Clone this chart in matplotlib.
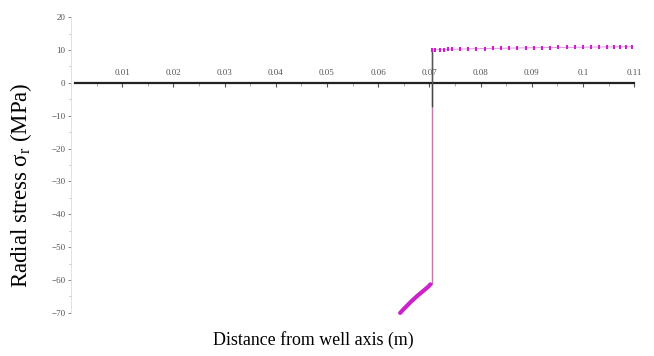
import matplotlib
matplotlib.use("Agg")
import matplotlib.pyplot as plt
from matplotlib.ticker import MultipleLocator

plt.rcParams["font.family"] = ["Liberation Serif", "DejaVu Serif"]

# Data
r_inner = [0.0643, 0.0650, 0.0657, 0.0664, 0.0671, 0.0678, 0.0685, 0.0692, 0.0698, 0.0702]
sigma_inner = [-70.0, -68.8, -67.7, -66.6, -65.6, -64.6, -63.7, -62.8, -62.0, -61.3]

r_jump = [0.0705, 0.0705]
sigma_jump = [-61.3, 10.0]

r_outer = [0.0705, 0.0712, 0.0720, 0.0728, 0.0736, 0.0745, 0.0760, 0.0776,
           0.0792, 0.0808, 0.0824, 0.0840, 0.0856, 0.0872, 0.0888, 0.0904,
           0.0920, 0.0936, 0.0952, 0.0968, 0.0984, 0.1000, 0.1016, 0.1032,
           0.1048, 0.1060, 0.1072, 0.1084, 0.1096]
sigma_outer = [10.00, 10.05, 10.09, 10.13, 10.17, 10.21, 10.27, 10.33,
               10.38, 10.43, 10.48, 10.52, 10.56, 10.60, 10.64, 10.67,
               10.70, 10.73, 10.76, 10.79, 10.82, 10.84, 10.87, 10.89,
               10.91, 10.93, 10.95, 10.97, 10.99]

x_ticks = [0.01, 0.02, 0.03, 0.04, 0.05, 0.06, 0.07, 0.08, 0.09, 0.1, 0.11]
x_tick_labels = ["0.01", "0.02", "0.03", "0.04", "0.05", "0.06", "0.07", "0.08", "0.09", "0.1", "0.11"]
y_ticks = [20, 10, 0, -10, -20, -30, -40, -50, -60, -70]

fig = plt.figure(figsize=(6.54, 3.56), dpi=100)
ax = fig.add_axes([0.1086, 0.121, 0.861, 0.831])

magenta = "#cc22cc"
ax.plot(r_jump, sigma_jump, color="#c07aa8", lw=1.0, zorder=2)
ax.plot([0.0705, 0.0705], [0, -7], color="#444444", lw=1.0, zorder=3)
ax.plot([0.0705, 0.0705], [10, 0], color="#555555", lw=1.0, zorder=3)
ax.plot(r_inner, sigma_inner, color=magenta, lw=3.0, solid_capstyle="round", zorder=4, clip_on=False)
ax.plot(r_outer, sigma_outer, color=magenta, lw=0, marker="|", ms=3.5, mew=1.5, zorder=4)
ax.plot(r_outer, sigma_outer, color="#e08ae0", lw=0.6, zorder=3)

ax.set_xlim(0, 0.11)
ax.set_ylim(-70, 20)

for s in ["top", "right"]:
    ax.spines[s].set_visible(False)
ax.spines["left"].set_color("#dddddd")
ax.spines["left"].set_linewidth(0.6)
ax.spines["bottom"].set_position(("data", 0))
ax.spines["bottom"].set_linewidth(1.6)
ax.spines["bottom"].set_color("#222222")
ax.spines["bottom"].set_bounds(0.0008, 0.11)

ax.set_xticks(x_ticks)
ax.set_xticklabels(x_tick_labels)
ax.xaxis.set_minor_locator(MultipleLocator(0.005))
ax.tick_params(axis="x", which="major", direction="out", length=3, width=0.8,
               color="#555555", labelsize=6.5, labelcolor="#555555", pad=-13)
ax.tick_params(axis="x", which="minor", direction="out", length=2, width=0.5, color="#888888")

ax.set_yticks(y_ticks)
ax.yaxis.set_minor_locator(MultipleLocator(5))
ax.tick_params(axis="y", which="major", direction="out", length=2, width=0.6,
               color="#777777", labelsize=6.5, labelcolor="#555555", pad=2)
ax.tick_params(axis="y", which="minor", direction="out", length=1.5, width=0.5, color="#aaaaaa")

fig.text(0.479, 0.045, "Distance from well axis (m)", ha="center", va="center", fontsize=12.9)
fig.text(0.032, 0.48, r"Radial stress $\mathregular{\sigma_r}$ (MPa)", ha="center", va="center",
         rotation=90, fontsize=16.5)

fig.savefig("out.png", dpi=100)
